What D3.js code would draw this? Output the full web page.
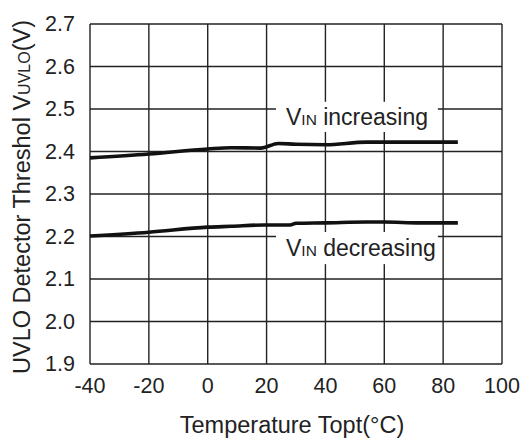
<!DOCTYPE html>
<html>
<head>
<meta charset="utf-8">
<script src="https://cdn.jsdelivr.net/npm/d3@7/dist/d3.min.js"></script>
<style>
body { margin: 0; background: #fff; }
svg { display: block; font-family: "Liberation Sans", Arial, Helvetica, sans-serif; }
</style>
</head>
<body>
<svg width="524" height="439"></svg>
<script>
// values
var xTicks = [-40, -20, 0, 20, 40, 60, 80, 100];
var yTicks = [1.9, 2.0, 2.1, 2.2, 2.3, 2.4, 2.5, 2.6, 2.7];

var incTemp = [-40, -20, 0, 8, 18, 24, 30, 40, 54, 60, 70, 85];
var incVolt = [2.385, 2.394, 2.406, 2.409, 2.408, 2.419, 2.417, 2.416, 2.422, 2.422, 2.422, 2.422];

var decTemp = [-40, -20, 0, 8, 19, 28, 30, 40, 54, 60, 72, 85];
var decVolt = [2.201, 2.210, 2.222, 2.224, 2.227, 2.227, 2.231, 2.232, 2.234, 2.234, 2.232, 2.232];

var svg = d3.select("svg");
var pL = 90, pR = 502, pT = 24, pB = 364;
var ink = "#222";

var x = d3.scaleLinear().domain([-40, 100]).range([pL, pR]);
var y = d3.scaleLinear().domain([1.9, 2.7]).range([pB, pT]);

// grid
var grid = svg.append("g").attr("stroke", ink).attr("stroke-width", 1.4);
grid.selectAll("line.v").data(xTicks).enter().append("line")
  .attr("class", "v")
  .attr("x1", function(d) { return x(d); })
  .attr("x2", function(d) { return x(d); })
  .attr("y1", pT).attr("y2", pB);
grid.selectAll("line.h").data(yTicks).enter().append("line")
  .attr("class", "h")
  .attr("y1", function(d) { return y(d); })
  .attr("y2", function(d) { return y(d); })
  .attr("x1", pL).attr("x2", pR);

// tick labels
svg.append("g").selectAll("text").data(xTicks).enter().append("text")
  .attr("x", function(d) { return x(d); })
  .attr("y", 393)
  .attr("text-anchor", "middle")
  .attr("font-size", 21.5)
  .attr("fill", ink)
  .text(function(d) { return d; });

svg.append("g").selectAll("text").data(yTicks).enter().append("text")
  .attr("x", 75)
  .attr("y", function(d) { return y(d) + 7; })
  .attr("text-anchor", "end")
  .attr("font-size", 21.5)
  .attr("fill", ink)
  .text(function(d) { return d.toFixed(1); });

// label boxes
function label(t0, t1, v0, v1, tx, vy, rest) {
  svg.append("rect")
    .attr("x", x(t0)).attr("width", x(t1) - x(t0))
    .attr("y", y(v0)).attr("height", y(v1) - y(v0))
    .attr("fill", "#fff");
  var t = svg.append("text")
    .attr("x", x(tx)).attr("y", y(vy))
    .attr("font-size", 23)
    .attr("fill", ink);
  t.append("tspan").text("V");
  t.append("tspan").attr("font-size", 15.5).text("IN");
  t.append("tspan").text(" " + rest);
}
label(23.2, 78.2, 2.517, 2.446, 26.6, 2.462, "increasing");
label(23.2, 78.2, 2.2105, 2.135, 26.6, 2.1535, "decreasing");

// curves
var line = d3.line()
  .x(function(d) { return x(d[0]); })
  .y(function(d) { return y(d[1]); })
  .curve(d3.curveMonotoneX);

svg.append("path")
  .datum(d3.zip(incTemp, incVolt))
  .attr("d", line)
  .attr("fill", "none").attr("stroke", "#111").attr("stroke-width", 3.6);

svg.append("path")
  .datum(d3.zip(decTemp, decVolt))
  .attr("d", line)
  .attr("fill", "none").attr("stroke", "#111").attr("stroke-width", 3.6);

// axis titles
svg.append("text")
  .attr("x", 292)
  .attr("y", 433)
  .attr("text-anchor", "middle")
  .attr("font-size", 23.5)
  .attr("fill", ink)
  .text("Temperature Topt(\u00B0C)");

var yt = svg.append("text")
  .attr("transform", "translate(30," + 197 + ") rotate(-90)")
  .attr("text-anchor", "middle")
  .attr("font-size", 23.5)
  .attr("fill", ink);
yt.append("tspan").text("UVLO Detector Threshol V");
yt.append("tspan").attr("font-size", 16).text("UVLO");
yt.append("tspan").text("(V)");
</script>
</body>
</html>
